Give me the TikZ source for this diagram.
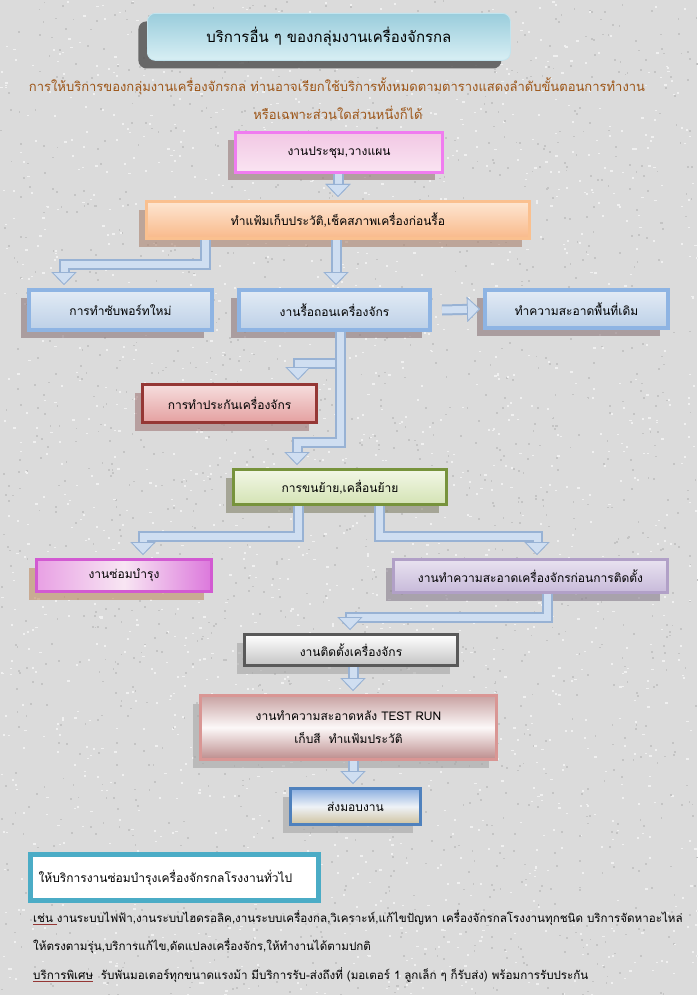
\documentclass[tikz,border=0pt]{standalone}
\usepackage{fontspec}
\setmainfont[Script=Thai]{Loma}
\usetikzlibrary{arrows.meta,shadows,calc}
\definecolor{bgbase}{HTML}{DBDBDB}
\definecolor{speckL}{HTML}{F0F0F0}
\definecolor{speckD}{HTML}{C4C4C4}
\definecolor{pipeedge}{HTML}{98B2D4}
\definecolor{pipelight}{HTML}{CFDEF1}
\definecolor{subbrown}{HTML}{9C5416}
\definecolor{ulred}{HTML}{953735}
\definecolor{blueB}{HTML}{8EB4E3}
\definecolor{blueT}{HTML}{E3EBF5}
\definecolor{blueBot}{HTML}{BCD0E7}
\definecolor{shBlue}{HTML}{8A7478}
\definecolor{titleEdge}{HTML}{C2E4EE}
\definecolor{titleT}{HTML}{9ACDDC}
\definecolor{titleB}{HTML}{D8EFF4}
\definecolor{meetB}{HTML}{F07CF0}
\definecolor{meetT}{HTML}{F2C8E4}
\definecolor{meetBot}{HTML}{FAE4F2}
\definecolor{shMeet}{HTML}{967878}
\definecolor{histB}{HTML}{FAC08F}
\definecolor{histT}{HTML}{FDE6D2}
\definecolor{histBot}{HTML}{F9B98A}
\definecolor{shHist}{HTML}{AA826E}
\definecolor{insB}{HTML}{953735}
\definecolor{insT}{HTML}{F6DEDE}
\definecolor{insBot}{HTML}{E4A0A0}
\definecolor{shIns}{HTML}{A07878}
\definecolor{moveB}{HTML}{77933C}
\definecolor{moveT}{HTML}{F2F7E6}
\definecolor{moveBot}{HTML}{D4E3B4}
\definecolor{shMove}{HTML}{828269}
\definecolor{maintB}{HTML}{D25AD2}
\definecolor{maintL}{HTML}{E8A0E4}
\definecolor{maintM}{HTML}{F8E6F3}
\definecolor{maintR}{HTML}{DC78DC}
\definecolor{shMaint}{HTML}{BE8C64}
\definecolor{precB}{HTML}{B1A0C7}
\definecolor{precT}{HTML}{E8E2F0}
\definecolor{precBot}{HTML}{C8BADA}
\definecolor{shPrec}{HTML}{877D8C}
\definecolor{instB}{HTML}{595959}
\definecolor{instBot}{HTML}{C4C4C4}
\definecolor{shGray}{HTML}{A5A5A5}
\definecolor{testB}{HTML}{D99694}
\definecolor{testT}{HTML}{C8A2A2}
\definecolor{testM}{HTML}{FCF8F8}
\definecolor{testBot}{HTML}{BC8C8C}
\definecolor{delB}{HTML}{4F81BD}
\definecolor{delT}{HTML}{8AAEE0}
\definecolor{delM}{HTML}{EEF2F7}
\definecolor{delBot}{HTML}{CFC29E}
\definecolor{genB}{HTML}{4BACC6}
\newcommand{\redul}[1]{\textcolor{ulred}{\underline{\textcolor{black}{#1}}}}
\tikzset{
  sh/.style={general shadow={fill=#1, fill opacity=0.6, shadow xshift=-8pt, shadow yshift=-8pt}},
  box/.style={draw, line width=3pt, anchor=north west, inner sep=0pt, align=center,
    font=\fontsize{12}{14}\selectfont, text=black},
  bluebox/.style={box, line width=4pt, draw=blueB, top color=blueT, bottom color=blueBot, sh=shBlue},
  pipe/.style={line width=7pt, draw=pipelight, preaction={draw=pipeedge, line width=11pt},
    -{Triangle[width=25pt,length=13pt,line width=0.8pt,fill=pipelight,color=pipeedge]}, shorten >=3pt},
  bodytext/.style={anchor=west, inner sep=0pt, font=\fontsize{11.6}{14}\selectfont},
  subtext/.style={text=subbrown, font=\fontsize{13}{15}\selectfont},
}
\begin{document}
\begin{tikzpicture}[x=1pt,y=-1pt]
\useasboundingbox (0,0) rectangle (697,995);
\fill[bgbase] (0,0) rectangle (697,995);
\pgfmathsetseed{7}
\foreach \i in {1,...,1800}{
  \pgfmathsetmacro{\px}{rnd*697}\pgfmathsetmacro{\py}{rnd*995}
  \fill[speckL] (\px,\py) rectangle ++(2.2,1.6);
  \pgfmathsetmacro{\qx}{rnd*697}\pgfmathsetmacro{\qy}{rnd*995}
  \fill[speckD] (\qx,\qy) rectangle ++(1.8,1.8);
}
% title
\node[draw=titleEdge, line width=0.8pt, rounded corners=8pt, anchor=north west,
  minimum width=363pt, minimum height=47pt, top color=titleT, bottom color=titleB,
  general shadow={fill=black!70, fill opacity=0.8, shadow xshift=-9pt, shadow yshift=-8pt},
  font=\fontsize{15}{17}\selectfont] (title) at (147,13) {บริการอื่น ๆ ของกลุ่มงานเครื่องจักรกล};
\node[subtext] (sub1) at (337,86)
  {การให้บริการของกลุ่มงานเครื่องจักรกล ท่านอาจเรียกใช้บริการทั้งหมดตามตารางแสดงลำดับขั้นตอนการทำงาน};
\node[subtext] (sub2) at (338,113) {หรือเฉพาะส่วนใดส่วนหนึ่งก็ได้};
% boxes
\node[box, draw=meetB, top color=meetT, bottom color=meetBot, sh=shMeet,
  minimum width=207pt, minimum height=40pt] (meet) at (234,131) {งานประชุม,วางแผน};
\node[box, draw=histB, top color=histT, bottom color=histBot, sh=shHist,
  minimum width=383pt, minimum height=37pt] (hist) at (145,200) {ทำแฟ้มเก็บประวัติ,เช็คสภาพเครื่องก่อนรื้อ};
\node[bluebox, minimum width=183pt, minimum height=40pt] (sup) at (27,288) {การทำซับพอร์ทใหม่};
\node[bluebox, minimum width=191pt, minimum height=40pt] (dism) at (237,288) {งานรื้อถอนเครื่องจักร};
\node[bluebox, minimum width=183pt, minimum height=38pt] (clean) at (483,288) {ทำความสะอาดพื้นที่เดิม};
\node[box, draw=insB, top color=insT, bottom color=insBot, sh=shIns,
  minimum width=174pt, minimum height=38pt] (ins) at (141,383) {การทำประกันเครื่องจักร};
\node[box, draw=moveB, top color=moveT, bottom color=moveBot, sh=shMove,
  minimum width=213pt, minimum height=35pt] (move) at (232,468) {การขนย้าย,เคลื่อนย้าย};
\node[box, draw=maintB, left color=maintL, right color=maintR, middle color=maintM, sh=shMaint,
  minimum width=175pt, minimum height=32pt] (maint) at (35,558) {งานซ่อมบำรุง};
\node[box, draw=precB, top color=precT, bottom color=precBot, sh=shPrec,
  minimum width=274pt, minimum height=33pt] (prec) at (392,558) {งานทำความสะอาดเครื่องจักรก่อนการติดตั้ง};
\node[box, draw=instB, top color=white, bottom color=instBot, sh=shGray,
  minimum width=213pt, minimum height=31pt] (inst) at (243,633) {งานติดตั้งเครื่องจักร};
\node[box, draw=testB, top color=testT, bottom color=testBot, middle color=testM, sh=shGray,
  minimum width=296pt, minimum height=64pt] (test) at (199,694) {งานทำความสะอาดหลัง TEST RUN\\[9pt]เก็บสี\ \ ทำแฟ้มประวัติ};
\node[box, draw=delB, top color=delT, bottom color=delBot, middle color=delM, sh=shGray,
  minimum width=130pt, minimum height=36pt] (deliv) at (289,787) {ส่งมอบงาน};
\node[box, draw=genB, line width=5pt, fill=white,
  minimum width=288pt, minimum height=46pt, text width=272pt, align=left] (gen) at (28,852)
  {ให้บริการงานซ่อมบำรุงเครื่องจักรกลโรงงานทั่วไป};
% paragraph
\node[bodytext] (l1) at (33,918)
  {\redul{เช่น }งานระบบไฟฟ้า,งานระบบไฮดรอลิค,งานระบบเครื่องกล,วิเคราะห์,แก้ไขปัญหา เครื่องจักรกลโรงงานทุกชนิด บริการจัดหาอะไหล่};
\node[bodytext] (l2) at (33,946)
  {ให้ตรงตามรุ่น,บริการแก้ไข,ดัดแปลงเครื่องจักร,ให้ทำงานได้ตามปกติ};
\node[bodytext] (l3) at (33,975)
  {\redul{บริการพิเศษ}\ \ รับพันมอเตอร์ทุกขนาดแรงม้า มีบริการรับ-ส่งถึงที่ (มอเตอร์ 1 ลูกเล็ก ๆ ก็รับส่ง) พร้อมการรับประกัน};
% pipes
\draw[pipe] (meet.south -| hist.north) -- (hist.north);
\draw[pipe] ([xshift=60pt]hist.south west) -- ++(0,24) -| ([xshift=37pt]sup.north west);
\draw[pipe] ([xshift=-2pt]hist.south) -- ([xshift=-2pt]hist.south |- dism.north);
\draw[pipe] ([xshift=10pt]dism.east) -- (clean.west);
\draw[pipe] ([xshift=6pt]dism.south) -- ++(0,31) -| ([xshift=-20pt]ins.north east);
\draw[pipe] ([xshift=6pt]dism.south) -- ++(0,110) -| ([xshift=65pt]move.north west);
\draw[pipe] ([xshift=66pt]move.south west) -- ++(0,30) -| ([xshift=108pt]maint.north west);
\draw[pipe] ([xshift=147pt]move.south west) -- ++(0,30) -| ([xshift=145pt]prec.north west);
\draw[pipe] ([xshift=155pt]prec.south west) -- ++(0,23) -| ([xshift=107pt]inst.north west);
\draw[pipe] ([xshift=110pt]inst.south west) -- ([xshift=110pt]inst.south west |- test.north);
\draw[pipe] ([xshift=154pt]test.south west) -- ([xshift=154pt]test.south west |- deliv.north);
\end{tikzpicture}
\end{document}
